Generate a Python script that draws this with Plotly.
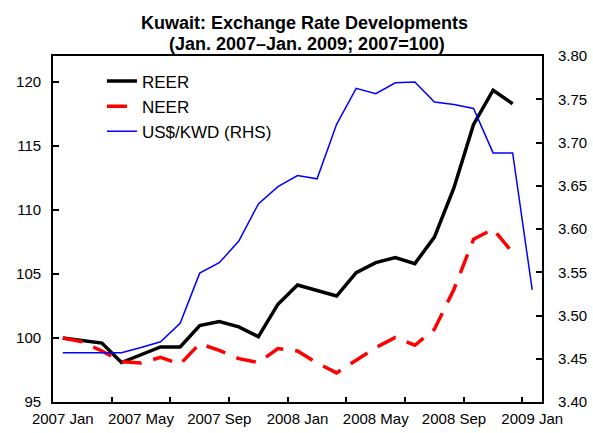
import plotly.graph_objects as go

months = list(range(25))  # 2007 Jan .. 2009 Jan
tick_pos = [0, 4, 8, 12, 16, 20, 24]
tick_labels = ["2007 Jan", "2007 May", "2007 Sep", "2008 Jan", "2008 May", "2008 Sep", "2009 Jan"]
minor_tick_pos = [2.5, 5.5, 8.5, 11.5, 14.5, 17.5, 20.5, 23.5]
rhs_ticks = [3.40, 3.45, 3.50, 3.55, 3.60, 3.65, 3.70, 3.75, 3.80]
rhs_labels = ["3.40", "3.45", "3.50", "3.55", "3.60", "3.65", "3.70", "3.75", "3.80"]
lhs_ticks = [95, 100, 105, 110, 115, 120]

reer = [100.0, 99.77, 99.6, 98.08, 98.7, 99.3, 99.3, 100.96, 101.28, 100.86, 100.1, 102.63,
        104.13, 103.7, 103.27, 105.1, 105.88, 106.27, 105.8, 107.87, 111.72, 116.66, 119.33, 118.27, None]
neer = [100.0, 99.69, 98.98, 98.15, 98.05, 98.48, 97.95, 99.55, 99.03, 98.38, 98.08, 99.17,
        98.98, 98.05, 97.27, 98.28, 99.25, 100.03, 99.43, 100.68, 103.8, 107.7, 108.5, 106.65, None]
usd_kwd = [3.457, 3.457, 3.457, 3.457, 3.463, 3.4696, 3.491, 3.549, 3.561, 3.586, 3.629, 3.649,
           3.6617, 3.658, 3.721, 3.7626, 3.7564, 3.769, 3.770, 3.7467, 3.744, 3.7394, 3.688, 3.688, 3.5295]

title_line1 = "Kuwait: Exchange Rate Developments"
title_line2 = "(Jan. 2007\u2013Jan. 2009; 2007=100)"

FONT = "Liberation Sans, Arial, sans-serif"
PLOT_TOP, PLOT_BOTTOM = 56, 402
PH = PLOT_BOTTOM - PLOT_TOP

fig = go.Figure()
fig.add_trace(go.Scatter(x=months, y=reer, name="REER", mode="lines",
                         line=dict(color="black", width=3.5)))
fig.add_trace(go.Scatter(x=months, y=neer, name="NEER", mode="lines",
                         line=dict(color="#FF0000", width=3.5, dash="20px,12px")))
fig.add_trace(go.Scatter(x=months, y=usd_kwd, name="US$/KWD (RHS)", mode="lines",
                         line=dict(color="#0000FF", width=1.5), xaxis="x2", yaxis="y2"))

title_font = dict(family=FONT, size=18, color="black", weight="bold")
fig.add_annotation(text=title_line1, xref="paper", yref="paper",
                   x=(305 - 53) / 489.6, y=(PLOT_BOTTOM - 35.5) / PH,
                   xanchor="center", yanchor="bottom", showarrow=False, font=title_font)
fig.add_annotation(text=title_line2, xref="paper", yref="paper",
                   x=(307 - 53) / 489.6, y=(PLOT_BOTTOM - 56) / PH,
                   xanchor="center", yanchor="bottom", showarrow=False, font=title_font)

fig.update_layout(
    width=593, height=433,
    margin=dict(l=53, r=51, t=PLOT_TOP, b=433 - PLOT_BOTTOM, autoexpand=False),
    paper_bgcolor="white", plot_bgcolor="white",
    font=dict(family=FONT, color="black", size=15),
    xaxis=dict(range=[-0.5, 24.5], tickvals=tick_pos, ticktext=tick_labels, ticks="",
               showline=True, linecolor="black", linewidth=1.8, mirror=True,
               showgrid=False, zeroline=False, ticklabelstandoff=2, automargin=False,
               tickfont=dict(size=15)),
    xaxis2=dict(range=[-0.5, 24.5], overlaying="x", anchor="y2", side="bottom",
                tickvals=minor_tick_pos, ticks="inside", ticklen=5, tickwidth=1.5,
                tickcolor="black", showticklabels=False, showline=False,
                showgrid=False, zeroline=False, automargin=False),
    yaxis=dict(range=[95, 122], tickvals=lhs_ticks, ticks="inside",
               ticklen=6, tickwidth=1.5, tickcolor="black", showline=True,
               linecolor="black", linewidth=1.8, showgrid=False, zeroline=False,
               ticklabelstandoff=7, automargin=False, tickfont=dict(size=15)),
    yaxis2=dict(range=[3.40, 3.80], tickvals=rhs_ticks, ticktext=rhs_labels,
                overlaying="y", side="right", anchor="x2",
                ticks="inside", ticklen=6, tickwidth=1.5, tickcolor="black",
                showline=True, linecolor="black", linewidth=1.8, showgrid=False,
                zeroline=False, ticklabelstandoff=11, automargin=False,
                tickfont=dict(size=15)),
    legend=dict(x=(102 - 53) / 489.6, y=1 - (63.5 - PLOT_TOP) / PH, xanchor="left", yanchor="top",
                bgcolor="rgba(0,0,0,0)", font=dict(size=17, family=FONT),
                tracegroupgap=0),
    showlegend=True,
)

fig.write_html("out.html", config={"displayModeBar": False},
               post_script="document.body.style.margin='0';document.body.style.overflow='hidden';")
